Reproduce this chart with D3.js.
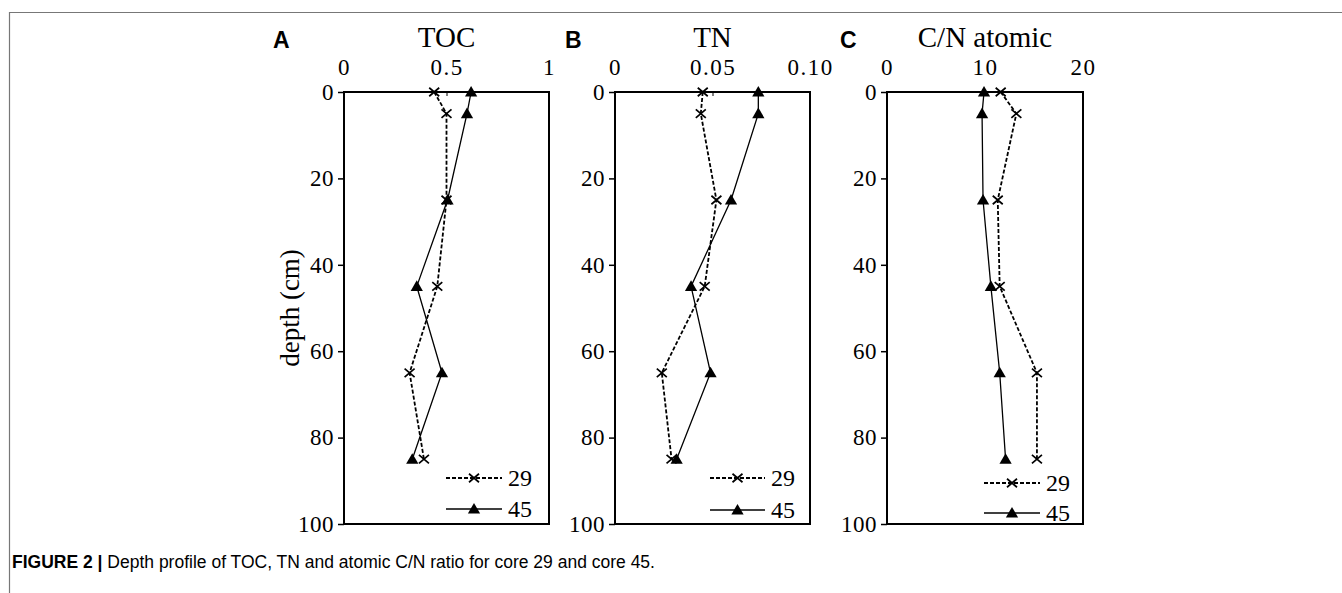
<!DOCTYPE html>
<html>
<head>
<meta charset="utf-8">
<script src="https://cdn.jsdelivr.net/npm/d3@7"></script>
<style>
  body { margin: 0; background: #fff; }
  svg text { fill: #000; }
</style>
</head>
<body>
<div id="Area"></div>
<script>
// depth of samples (cm)
var depths = [0, 5, 25, 45, 65, 85];
var depthTicks = [0, 20, 40, 60, 80, 100];

// core 29 / core 45 profiles
var toc29 = [0.44, 0.50, 0.50, 0.455, 0.32, 0.39];
var toc45 = [0.62, 0.60, 0.505, 0.355, 0.478, 0.333];
var tn29 = [0.045, 0.044, 0.052, 0.046, 0.024, 0.029];
var tn45 = [0.0735, 0.0735, 0.0595, 0.039, 0.049, 0.0316];
var cn29 = [11.6, 13.2, 11.3, 11.5, 15.3, 15.3];
var cn45 = [9.9, 9.7, 9.8, 10.6, 11.5, 12.1];

var tocTicks = [0, 0.5, 1], tocLabels = ["0", "0.5", "1"];
var tnTicks = [0, 0.05, 0.10], tnLabels = ["0", "0.05", "0.10"];
var cnTicks = [0, 10, 20], cnLabels = ["0", "10", "20"];

var cores = ["29", "45"];

var W = 1342, H = 593;
var top0 = 92, bottom0 = 524;
var serif = "Liberation Serif, Times New Roman, serif";

var panels = [
  { letter: "A", lx: 273, title: "TOC", left: 344, right: 549, max: 1, ticks: tocTicks, labels: tocLabels, s29: toc29, s45: toc45, leg: [102, 158], legY: [478, 509], ylab: true },
  { letter: "B", lx: 565, title: "TN", left: 615, right: 810, max: 0.10, ticks: tnTicks, labels: tnLabels, s29: tn29, s45: tn45, leg: [95, 150], legY: [478, 510] },
  { letter: "C", lx: 840, title: "C/N atomic", left: 887, right: 1083, max: 20, ticks: cnTicks, labels: cnLabels, s29: cn29, s45: cn45, leg: [97, 153], legY: [483, 513] }
];

var svg = d3.select("#Area").append("svg")
  .attr("width", W).attr("height", H);

// page frame
svg.append("path")
  .attr("d", "M9.5," + H + "V12.5H" + W)
  .attr("fill", "none").attr("stroke", "#777").attr("stroke-width", 1.2);

var y = d3.scaleLinear().domain([0, 100]).range([top0, bottom0]);

var xMark = function (s) {
  return "M" + (-s) + "," + (-s * 0.85) + "L" + s + "," + (s * 0.85) + "M" + (-s) + "," + (s * 0.85) + "L" + s + "," + (-s * 0.85);
};
var tri = d3.symbol().type(d3.symbolTriangle).size(65);

panels.forEach(function (p) {
  var x = d3.scaleLinear().domain([0, p.max]).range([p.left, p.right]);
  var g = svg.append("g");

  // left axis
  var ay = g.append("g").attr("transform", "translate(" + p.left + ",0)")
    .call(d3.axisLeft(y).tickValues(depthTicks).tickSize(6).tickPadding(4));
  ay.select(".domain").remove();
  ay.selectAll("line").attr("stroke-width", 1.5);
  ay.selectAll("text").style("font-family", serif).style("font-size", "23px").style("letter-spacing", "0.5px");

  // top axis
  var ax = g.append("g").attr("transform", "translate(0," + top0 + ")")
    .call(d3.axisTop(x).tickValues(p.ticks).tickFormat(function (d, i) { return p.labels[i]; }).tickSize(-4).tickPadding(17));
  ax.select(".domain").remove();
  ax.selectAll("text").style("font-family", serif).style("font-size", "23px").style("letter-spacing", "1.5px");

  // box
  g.append("rect")
    .attr("x", p.left).attr("y", top0)
    .attr("width", p.right - p.left).attr("height", bottom0 - top0)
    .attr("fill", "none").attr("stroke", "#000").attr("stroke-width", 2);

  // titles
  g.append("text").attr("x", (p.left + p.right) / 2).attr("y", 47)
    .attr("text-anchor", "middle")
    .style("font-family", serif).style("font-size", "29px")
    .text(p.title);
  g.append("text").attr("x", p.lx).attr("y", 48)
    .style("font-family", "Liberation Sans, Arial, sans-serif").style("font-weight", "bold").style("font-size", "23px")
    .text(p.letter);

  var line = d3.line()
    .x(function (d) { return x(d[0]); })
    .y(function (d) { return y(d[1]); });

  var d29 = p.s29.map(function (v, i) { return [v, depths[i]]; });
  var d45 = p.s45.map(function (v, i) { return [v, depths[i]]; });

  g.append("path").datum(d29).attr("d", line)
    .attr("fill", "none").attr("stroke", "#000").attr("stroke-width", 1.8).attr("stroke-dasharray", "4,2");
  g.append("path").datum(d45).attr("d", line)
    .attr("fill", "none").attr("stroke", "#000").attr("stroke-width", 1.3);

  g.selectAll(".m29").data(d29).enter().append("path")
    .attr("transform", function (d) { return "translate(" + x(d[0]) + "," + y(d[1]) + ")"; })
    .attr("d", xMark(5)).attr("stroke", "#000").attr("stroke-width", 1.7).attr("fill", "none");
  g.selectAll(".m45").data(d45).enter().append("path")
    .attr("transform", function (d) { return "translate(" + x(d[0]) + "," + (y(d[1]) + 1) + ")"; })
    .attr("d", tri).attr("fill", "#000");

  // legend
  var lx0 = p.left + p.leg[0], lx1 = p.left + p.leg[1], lm = (lx0 + lx1) / 2;
  cores.forEach(function (c, i) {
    var ly = p.legY[i];
    g.append("line").attr("x1", lx0).attr("x2", lx1).attr("y1", ly).attr("y2", ly)
      .attr("stroke", "#000").attr("stroke-width", i === 0 ? 1.8 : 1.3)
      .attr("stroke-dasharray", i === 0 ? "4,2" : null);
    if (i === 0) {
      g.append("path").attr("transform", "translate(" + lm + "," + ly + ")")
        .attr("d", xMark(5)).attr("stroke", "#000").attr("stroke-width", 1.7);
    } else {
      g.append("path").attr("transform", "translate(" + lm + "," + (ly + 1) + ")")
        .attr("d", tri).attr("fill", "#000");
    }
    g.append("text").attr("x", lx1 + 6).attr("y", ly + 8)
      .style("font-family", serif).style("font-size", "24px")
      .text(c);
  });

  if (p.ylab) {
    g.append("text")
      .attr("transform", "translate(299," + ((top0 + bottom0) / 2) + ") rotate(-90)")
      .attr("text-anchor", "middle")
      .style("font-family", serif).style("font-size", "27px")
      .text("depth (cm)");
  }
});

// caption
var cap = svg.append("text").attr("x", 12).attr("y", 568)
  .style("font-family", "Liberation Sans, Arial, sans-serif").style("font-size", "17.5px");
cap.append("tspan").style("font-weight", "bold").text("FIGURE 2 | ");
cap.append("tspan").text("Depth profile of TOC, TN and atomic C/N ratio for core 29 and core 45.");
</script>
</body>
</html>
